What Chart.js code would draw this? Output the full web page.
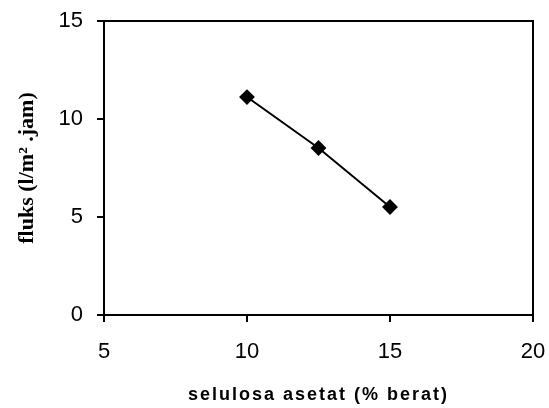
<!DOCTYPE html>
<html>
<head>
<meta charset="utf-8">
<script src="https://cdn.jsdelivr.net/npm/chart.js@4/dist/chart.umd.min.js"></script>
<style>
  html, body { margin: 0; padding: 0; background: #fff; }
  #wrap { width: 549px; height: 408px; }
</style>
</head>
<body>
<div id="wrap"><canvas id="chart"></canvas></div>
<script>
// data
const celluloseAcetate = [10, 12.5, 15];
const fluxValues = [11.12, 8.52, 5.51];
const xTicks = [5, 10, 15, 20];
const yTicks = [0, 5, 10, 15];

const xTitle = "selulosa asetat (% berat)";
const yTitle = "fluks (l/m\u00B2 .jam)";

// draw box around the plot area (top + right edges)
const frame = {
  id: "frame",
  afterDraw(chart) {
    const a = chart.chartArea;
    const ctx = chart.ctx;
    ctx.save();
    ctx.strokeStyle = "#000";
    ctx.lineWidth = 2;
    ctx.strokeRect(a.left, a.top, a.right - a.left, a.bottom - a.top);
    ctx.restore();
  },
};

// the x title in the source is spaced out a little
const spacedTitle = {
  id: "spacedTitle",
  beforeDraw(chart) {
    const sc = chart.scales.x;
    if (sc._spaced) return;
    const orig = sc.drawTitle;
    sc.drawTitle = function () {
      const ctx = this.ctx;
      ctx.save();
      ctx.letterSpacing = "2px";
      orig.apply(this, arguments);
      ctx.restore();
    };
    sc._spaced = true;
  },
};

const tickFont = { family: "'Liberation Sans', Arial, sans-serif", size: 22 };

new Chart(document.getElementById("chart"), {
  type: "line",
  data: {
    datasets: [
      {
        data: celluloseAcetate.map((x, i) => ({ x: x, y: fluxValues[i] })),
        borderColor: "#000",
        borderWidth: 2,
        backgroundColor: "#000",
        pointStyle: "rectRot",
        pointRadius: 6.5,
        pointHoverRadius: 6.5,
        tension: 0,
      },
    ],
  },
  options: {
    responsive: true,
    maintainAspectRatio: false,
    animation: false,
    layout: { padding: { top: 21, right: 16, left: 0, bottom: 0 } },
    plugins: { legend: { display: false }, tooltip: { enabled: false } },
    scales: {
      x: {
        type: "linear",
        min: 5,
        max: 20,
        afterBuildTicks: (axis) => {
          axis.ticks = xTicks.map((v) => ({ value: v }));
        },
        afterFit: (axis) => {
          axis.height = 93;
          axis.paddingLeft = 0;
          axis.paddingRight = 0;
        },
        grid: { display: true, drawOnChartArea: false, drawTicks: true, tickLength: 7, color: "#000", lineWidth: 2 },
        border: { display: true, color: "#000", width: 2 },
        ticks: {
          color: "#000",
          padding: 17,
          maxRotation: 0,
          font: tickFont,
        },
        title: {
          display: true,
          text: xTitle,
          color: "#000",
          padding: { top: 0, bottom: 2 },
          font: { family: "'Liberation Sans', Arial, sans-serif", size: 18, weight: "bold" },
        },
      },
      y: {
        type: "linear",
        min: 0,
        max: 15,
        afterBuildTicks: (axis) => {
          axis.ticks = yTicks.map((v) => ({ value: v }));
        },
        afterFit: (axis) => {
          axis.width = 104;
          axis.paddingTop = 0;
          axis.paddingBottom = 0;
        },
        grid: { display: true, drawOnChartArea: false, drawTicks: true, tickLength: 7, color: "#000", lineWidth: 2 },
        border: { display: true, color: "#000", width: 2 },
        ticks: {
          color: "#000",
          padding: 14,
          font: tickFont,
        },
        title: {
          display: true,
          text: yTitle,
          color: "#000",
          padding: { top: 14, bottom: 0 },
          font: { family: "'Liberation Serif', 'Times New Roman', serif", size: 22, weight: "bold" },
        },
      },
    },
  },
  plugins: [frame, spacedTitle],
});
</script>
</body>
</html>
